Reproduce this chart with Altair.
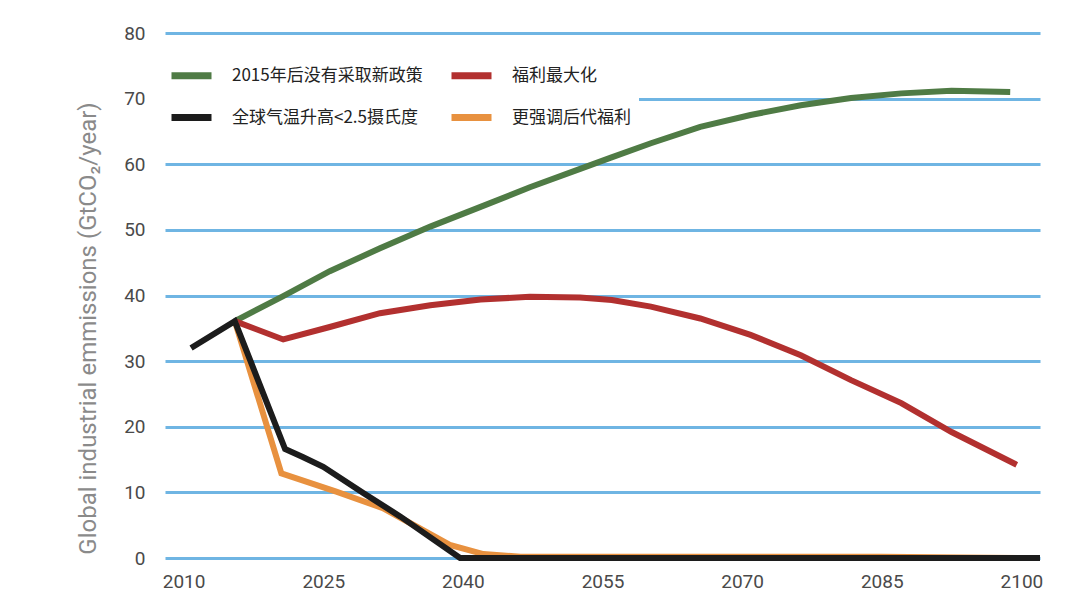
import altair as alt
import pandas as pd

# ---- data ----
series_names = ["2015年后没有采取新政策", "福利最大化", "全球气温升高<2.5摄氏度", "更强调后代福利"]
series_colors = ["#4f7b45", "#b2302f", "#1c1c1c", "#e8913f"]

green_years = [2015.5, 2020.7, 2025.7, 2031.1, 2036.5, 2041.9, 2047.2, 2052.6, 2055.9, 2060.2,
               2065.5, 2070.9, 2076.3, 2081.7, 2087.1, 2092.5, 2098.8]
green_vals = [36.1, 39.9, 43.7, 47.2, 50.5, 53.5, 56.5, 59.3, 61.0, 63.2,
              65.7, 67.5, 69.0, 70.1, 70.8, 71.2, 71.0]

red_years = [2015.5, 2020.7, 2025.7, 2031.1, 2036.5, 2041.9, 2047.2, 2052.6, 2056.0, 2060.2,
             2065.5, 2070.9, 2076.3, 2081.7, 2087.1, 2092.5, 2099.5]
red_vals = [36.1, 33.3, 35.2, 37.3, 38.5, 39.4, 39.8, 39.7, 39.3, 38.3,
            36.5, 34.0, 30.9, 27.1, 23.6, 19.2, 14.2]

black_years = [2010.8, 2015.5, 2020.9, 2022.8, 2025.0, 2029.3, 2033.3, 2039.7, 2102.0]
black_vals = [32.0, 36.1, 16.6, 15.4, 13.9, 9.9, 6.3, 0.0, 0.0]

orange_years = [2015.5, 2020.5, 2026.4, 2031.4, 2035.0, 2038.6, 2042.2, 2046.2, 2085.0, 2100.0]
orange_vals = [36.1, 12.9, 10.1, 7.6, 4.8, 2.0, 0.6, 0.2, 0.2, 0.0]

x_ticks = [2010, 2025, 2040, 2055, 2070, 2085, 2100]
y_ticks = [0, 10, 20, 30, 40, 50, 60, 70, 80]


def frame(name, years, vals):
    return pd.DataFrame({"year": years, "value": vals, "series": [name] * len(years)})


frames = {
    series_names[0]: frame(series_names[0], green_years, green_vals),
    series_names[1]: frame(series_names[1], red_years, red_vals),
    series_names[3]: frame(series_names[3], orange_years, orange_vals),
    series_names[2]: frame(series_names[2], black_years, black_vals),
}

x_enc = alt.X(
    "year:Q",
    scale=alt.Scale(domain=[2008, 2102], nice=False, zero=False),
    axis=alt.Axis(
        values=x_ticks, format="d", title=None, grid=False, ticks=False, domain=False,
        labelFont="Roboto", labelFontSize=19, labelColor="#4a4a4a", labelPadding=14,
    ),
)
y_enc = alt.Y(
    "value:Q",
    scale=alt.Scale(domain=[0, 80], nice=False),
    axis=alt.Axis(
        values=y_ticks, title="Global industrial emmissions (GtCO₂/year)",
        grid=True, gridColor="#6fb5e3", gridWidth=3, gridOpacity=1,
        ticks=False, domain=False,
        labelFont="Roboto", labelFontSize=19, labelColor="#4a4a4a", labelPadding=20,
        titleFont="Roboto", titleFontSize=24, titleFontWeight="normal", titleColor="#8a8a8a",
        titleAngle=-90, titleX=-77, titleY=295, titleAlign="center", titleBaseline="middle",
    ),
)
color_enc = alt.Color(
    "series:N",
    scale=alt.Scale(domain=series_names, range=series_colors),
    legend=alt.Legend(
        title=None, orient="none", legendX=-5, legendY=11, columns=2, direction="horizontal",
        symbolType="stroke", symbolSize=1600, symbolStrokeWidth=7,
        labelFont="Noto Sans CJK SC", labelFontSize=17, labelColor="#222222",
        labelOffset=17, rowPadding=4, columnPadding=14,
        fillColor="white", padding=8, labelLimit=400,
    ),
)

layers = []
for name in [series_names[0], series_names[1], series_names[3], series_names[2]]:
    layers.append(
        alt.Chart(frames[name]).mark_line(strokeWidth=6).encode(
            x=x_enc, y=y_enc, color=color_enc, order="year:Q"
        )
    )

chart = (
    alt.layer(*layers)
    .properties(
        width=875, height=525,
        autosize=alt.AutoSizeParams(type="none"),
        padding={"left": 157, "top": 25, "right": 32, "bottom": 47},
        background="white",
    )
    .configure_view(strokeWidth=0)
)

chart.save("out.html", embed_options={"renderer": "svg", "actions": False})
